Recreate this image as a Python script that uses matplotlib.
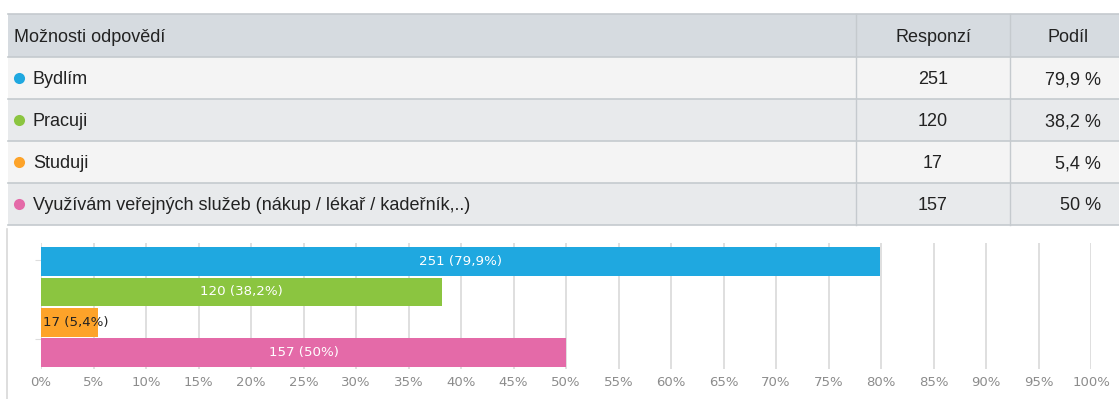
import matplotlib

matplotlib.use("Agg")
import matplotlib.pyplot as plt
from matplotlib.lines import Line2D
from matplotlib.patches import Rectangle

# data
options = ["Bydlím", "Pracuji", "Studuji",
           "Využívám veřejných služeb (nákup / lékař / kadeřník,..)"]
counts = [251, 120, 17, 157]
shares = [79.9, 38.2, 5.4, 50.0]
share_labels = ["79,9 %", "38,2 %", "5,4 %", "50 %"]
bar_labels = ["251 (79,9%)", "120 (38,2%)", "17 (5,4%)", "157 (50%)"]
colors = ["#1fa8e0", "#8bc540", "#fda329", "#e46aa8"]
x_ticks = list(range(0, 101, 5))

W, H = 1119, 399
fig = plt.figure(figsize=(W / 100, H / 100), dpi=100)
fig.patch.set_facecolor("white")

TFONT = ["Liberation Sans", "DejaVu Sans"]
TSIZE = 13
TVA = "center_baseline"

# --- table, drawn in pixel coordinates ---
tab = fig.add_axes([0, 0, 1, 1])
tab.set_xlim(0, W)
tab.set_ylim(H, 0)
tab.axis("off")

left, right = 8, W
col1, col2 = 856, 1010
row_edges = [14, 57, 99, 141, 183, 225]
header_bg = "#d6dbe0"
row_bg = ["#f4f4f4", "#e8eaec"]
line_c = "#c5cace"

tab.add_patch(Rectangle((left, row_edges[0]), right - left,
                        row_edges[1] - row_edges[0], color=header_bg, lw=0))
for i in range(len(options)):
    y0, y1 = row_edges[i + 1], row_edges[i + 2]
    tab.add_patch(Rectangle((left, y0), right - left, y1 - y0,
                            color=row_bg[i % 2], lw=0))
for y in row_edges:
    tab.add_line(Line2D([left, right], [y, y], color=line_c, lw=1.2))
for x in (col1, col2):
    tab.add_line(Line2D([x, x], [row_edges[0], row_edges[-1]], color=line_c, lw=1.0))

hy = (row_edges[0] + row_edges[1]) / 2
tab.text(14, hy, "Možnosti odpovědí", family=TFONT, fontsize=TSIZE,
         color="#222222", va=TVA, ha="left")
tab.text((col1 + col2) / 2, hy, "Responzí", family=TFONT, fontsize=TSIZE,
         color="#222222", va=TVA, ha="center")
tab.text((col2 + right) / 2 + 4, hy, "Podíl", family=TFONT, fontsize=TSIZE,
         color="#222222", va=TVA, ha="center")

for i, (opt, n, s, c) in enumerate(zip(options, counts, share_labels, colors)):
    yc = (row_edges[i + 1] + row_edges[i + 2]) / 2
    tab.plot([19], [yc], "o", ms=8, color=c, mec="none")
    tab.text(33, yc, opt, family=TFONT, fontsize=TSIZE, color="#222222",
             va=TVA, ha="left")
    tab.text((col1 + col2) / 2, yc, str(n), family=TFONT, fontsize=TSIZE,
             color="#222222", va=TVA, ha="center")
    tab.text(1101, yc, s, family=TFONT, fontsize=TSIZE, color="#222222",
             va=TVA, ha="right")

# container border on the left of the chart
tab.add_line(Line2D([7, 7], [229, H], color="#d8d8d8", lw=1.2))

# --- bar chart ---
ax = fig.add_axes([41 / W, 1 - 369 / H, 1050 / W, 126 / H])
ypos = list(range(len(counts)))
ax.barh(ypos, shares, height=0.95, color=colors, zorder=3)
ax.set_xlim(0, 100)
ax.set_ylim(len(counts) - 0.45, -0.62)
ax.set_xticks(x_ticks)
ax.set_xticklabels([f"{t}%" for t in x_ticks])
ax.grid(axis="x", color="#d9d9d9", lw=1.2, zorder=0)
ax.tick_params(axis="x", length=0, labelsize=9.5, colors="#8c8c8c", pad=5)
ax.set_yticks([-0.05, 2.55])
ax.set_yticklabels([])
ax.tick_params(axis="y", length=4, color="#dddddd", width=0.8)
for sp in ax.spines.values():
    sp.set_visible(False)

for y, v, lab in zip(ypos, shares, bar_labels):
    if v > 10:
        ax.text(v / 2, y, lab, ha="center", va="center", color="white",
                fontsize=9.6, zorder=4)
    else:
        ax.text(0.2, y, lab, ha="left", va="center", color="#222222",
                fontsize=9.6, zorder=4)

fig.savefig("out.png", dpi=100)
